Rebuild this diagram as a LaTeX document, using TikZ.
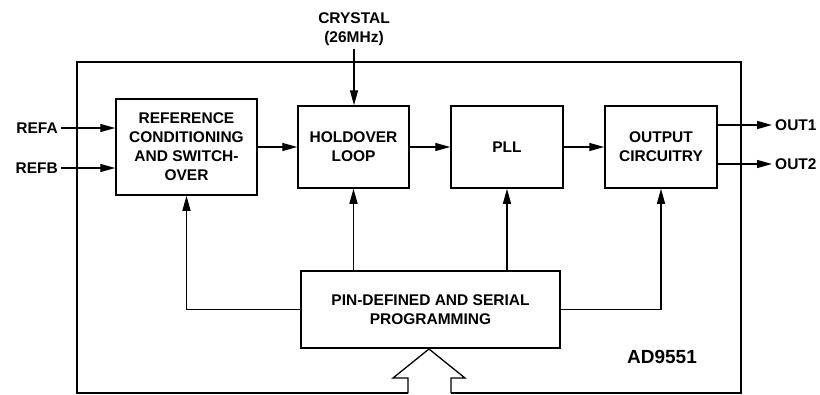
\documentclass[tikz,border=0pt]{standalone}
\usepackage{fontspec}
\setmainfont{Liberation Sans}
\usetikzlibrary{arrows.meta,calc}
\tikzstyle{blk}=[rectangle, draw=black, line width=1.5pt, align=center, inner sep=0pt, anchor=center, font=\bfseries\fontsize{15.5}{19}\selectfont]
\tikzstyle{annot}=[align=center, inner sep=3pt, font=\bfseries\fontsize{15.5}{19}\selectfont]
\tikzstyle{sig}=[line width=1.3pt, -{Triangle[length=15pt,width=8pt]}]

\begin{document}
\begin{tikzpicture}[x=1pt,y=-1pt]
	\useasboundingbox (0,0) rectangle (820,394);

	% chip outline, left open where the bus comes in
	\draw[line width=1.8pt] (408,393) -- (77,393) -- (77,62) -- (741,62) -- (741,393) -- (451,393);

	\node[blk, minimum width=141pt, minimum height=96pt](ref) at (186.5,147){REFERENCE\\CONDITIONING\\AND SWITCH-\\OVER};
	\node[blk, minimum width=111pt, minimum height=82pt](hold) at (353.5,147){HOLDOVER\\LOOP};
	\node[blk, minimum width=112pt, minimum height=82pt](pll) at (507,147){PLL};
	\node[blk, minimum width=112pt, minimum height=82pt](out) at (661,147){OUTPUT\\CIRCUITRY};
	\node[blk, minimum width=259pt, minimum height=77pt](pin) at (430.5,309.5){PIN-DEFINED AND SERIAL\\PROGRAMMING};

	\node[annot, anchor=east](refa) at (61,128){REFA};
	\node[annot, anchor=east](refb) at (61,168){REFB};
	\node[annot, anchor=west](out1) at (772,125){OUT1};
	\node[annot, anchor=west](out2) at (772,164){OUT2};
	\node[annot, anchor=south](xtal) at (354,49){CRYSTAL\\(26MHz)};
	\node[annot, font=\bfseries\fontsize{19}{22}\selectfont](chip) at (662,357){AD9551};

	\draw[sig] (refa.east) -- (refa.east -| ref.west);
	\draw[sig] (refb.east) -- (refb.east -| ref.west);
	\draw[sig] (xtal.south) -- (xtal.south |- hold.north);
	\draw[sig] (ref) -- (hold);
	\draw[sig] (hold) -- (pll);
	\draw[sig] (pll) -- (out);
	\draw[sig] (out1.west -| out.east) -- (out1.west);
	\draw[sig] (out2.west -| out.east) -- (out2.west);

	\draw[sig] (pin.west) -| (ref.south);
	\draw[sig] (pin.north -| hold.south) -- (hold.south);
	\draw[sig] (pin.north -| pll.south) -- (pll.south);
	\draw[sig] (pin.east) -| (out.south);

	% bus arrow into the programming block
	\draw[line width=1.3pt] (408,393) -- (408,378) -- (393,378) -- (429,349) -- (465,378) -- (451,378) -- (451,393);

\end{tikzpicture}
\end{document}
